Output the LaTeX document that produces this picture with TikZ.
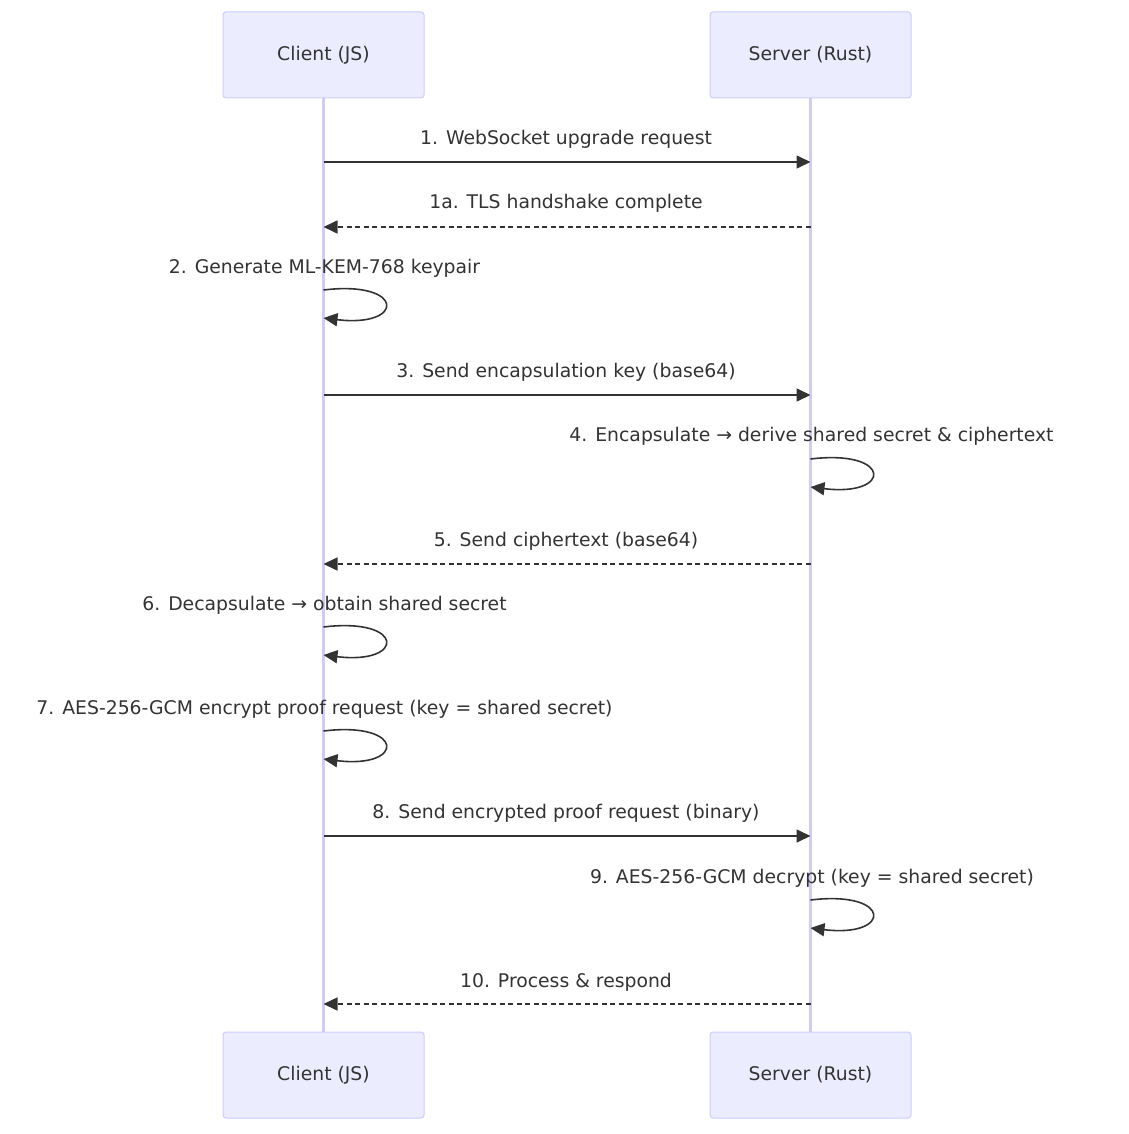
\documentclass[tikz,border=0pt]{standalone}
\usepackage{fontspec}
\setmainfont{DejaVu Sans}
\usepackage{tikz}
\usetikzlibrary{arrows.meta, positioning, calc}
\definecolor{mtext}{HTML}{333333}
\definecolor{mfill}{HTML}{ECECFF}
\definecolor{mborder}{HTML}{CCCCFF}
\definecolor{mlife}{HTML}{D4CAF6}

\tikzset{
  actor/.style={draw=mborder, fill=mfill, line width=1pt, rounded corners=3pt,
    minimum width=201pt, minimum height=86pt, font=\fontsize{18.8}{22}\selectfont, text=mtext},
  msglabel/.style={font=\fontsize{18.8}{22}\selectfont, text=mtext},
  call/.style={draw=mtext, line width=1.6pt, -{Triangle[length=14pt, width=13pt]}},
  reply/.style={call, dash pattern=on 5pt off 3.5pt},
  selfcall/.style={draw=mtext, line width=1.6pt, -{Triangle[length=14pt, width=13pt]}}
}

\begin{document}
\begin{tikzpicture}[x=1pt, y=-1pt]
\useasboundingbox[fill=white] (0,0) rectangle (1128,1134);
% lifelines first, boxes on top
\draw[mlife, line width=2.4pt] (323.5,55) -- (323.5,1075);
\draw[mlife, line width=2.4pt] (810.5,55) -- (810.5,1075);
\node[actor] (cTop) at (323.5,55) {Client (JS)};
\node[actor] (sTop) at (810.5,55) {Server (Rust)};
\node[actor] (cBot) at (323.5,1075) {Client (JS)};
\node[actor] (sBot) at (810.5,1075) {Server (Rust)};

% message end points on the lifelines
\coordinate (c1) at (323.5,162);  \coordinate (s1) at (810.5,162);
\coordinate (c1a) at (323.5,227); \coordinate (s1a) at (810.5,227);
\coordinate (c2) at (323.5,290);
\coordinate (c3) at (323.5,395);  \coordinate (s3) at (810.5,395);
\coordinate (s4) at (810.5,459);
\coordinate (c5) at (323.5,564);  \coordinate (s5) at (810.5,564);
\coordinate (c6) at (323.5,627);
\coordinate (c7) at (323.5,731);
\coordinate (c8) at (323.5,836);  \coordinate (s8) at (810.5,836);
\coordinate (s9) at (810.5,900);
\coordinate (c10) at (323.5,1004); \coordinate (s10) at (810.5,1004);

% 1 / 1a
\node[msglabel] (l1) at (566,139) {1. WebSocket upgrade request};
\draw[call] (c1) -- (s1);
\node[msglabel] (l1a) at (566,203) {1a. TLS handshake complete};
\draw[reply] (s1a) -- (c1a);

% 2 self
\node[msglabel] (l2) at (324.5,268) {2. Generate ML-KEM-768 keypair};
\draw[selfcall] (c2) .. controls ($(c2)+(82,-10)$) and ($(c2)+(82,38)$) .. ($(c2)+(0,28)$);

% 3
\node[msglabel] (l3) at (566,372) {3. Send encapsulation key (base64)};
\draw[call] (c3) -- (s3);

% 4 self
\node[msglabel] (l4) at (811.5,436) {4. Encapsulate \char"2192{} derive shared secret \& ciphertext};
\draw[selfcall] (s4) .. controls ($(s4)+(82,-10)$) and ($(s4)+(82,38)$) .. ($(s4)+(0,28)$);

% 5
\node[msglabel] (l5) at (566,541) {5. Send ciphertext (base64)};
\draw[reply] (s5) -- (c5);

% 6 self
\node[msglabel] (l6) at (324.5,605) {6. Decapsulate \char"2192{} obtain shared secret};
\draw[selfcall] (c6) .. controls ($(c6)+(82,-10)$) and ($(c6)+(82,38)$) .. ($(c6)+(0,28)$);

% 7 self
\node[msglabel] (l7) at (324.5,709) {7. AES-256-GCM encrypt proof request (key = shared secret)};
\draw[selfcall] (c7) .. controls ($(c7)+(82,-10)$) and ($(c7)+(82,38)$) .. ($(c7)+(0,28)$);

% 8
\node[msglabel] (l8) at (566,813) {8. Send encrypted proof request (binary)};
\draw[call] (c8) -- (s8);

% 9 self
\node[msglabel] (l9) at (812,878) {9. AES-256-GCM decrypt (key = shared secret)};
\draw[selfcall] (s9) .. controls ($(s9)+(82,-10)$) and ($(s9)+(82,38)$) .. ($(s9)+(0,28)$);

% 10
\node[msglabel] (l10) at (566,982) {10. Process \& respond};
\draw[reply] (s10) -- (c10);
\end{tikzpicture}
\end{document}
